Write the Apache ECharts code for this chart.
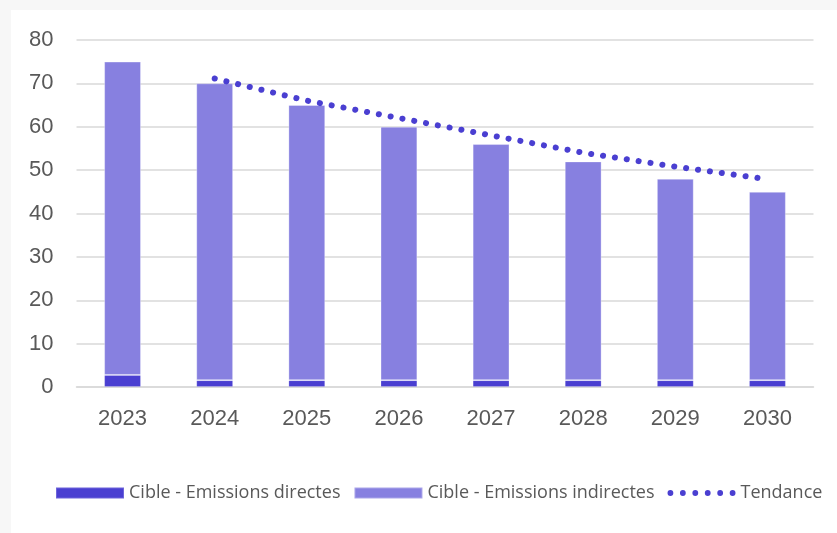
<!DOCTYPE html>
<html>
<head>
<meta charset="utf-8">
<script src="https://cdn.jsdelivr.net/npm/echarts@6/dist/echarts.min.js"></script>
<style>
  html, body { margin: 0; padding: 0; background: #f7f7f7; }
  #card { position: absolute; left: 11px; top: 10px; width: 826px; height: 523px; background: #ffffff; }
  #chart { position: absolute; left: 0; top: 0; width: 837px; height: 533px; }
</style>
</head>
<body>
<div id="card"></div>
<div id="chart"></div>
<script>
const categories = ['2023', '2024', '2025', '2026', '2027', '2028', '2029', '2030'];
const directes = [2.8, 1.6, 1.6, 1.6, 1.6, 1.6, 1.6, 1.6];
const indirectes = [72.2, 68.4, 63.4, 58.4, 54.4, 50.4, 46.4, 43.4];
const tendance = [null, 71.1, 66.0, 62.0, 58.0, 54.0, 50.8, 47.9];
const yTicks = [0, 10, 20, 30, 40, 50, 60, 70, 80];
const seriesNames = ['Cible - Emissions directes', 'Cible - Emissions indirectes', 'Tendance'];

// six dots icon for the dotted trend legend entry
let dotsPath = 'path://';
for (let i = 0; i < 6; i++) {
  const cx = 3 + i * 12.4, r = 2.9;
  dotsPath += 'M' + (cx - r) + ' 5.5 a' + r + ' ' + r + ' 0 1 0 ' + (2 * r) + ' 0 a' + r + ' ' + r + ' 0 1 0 ' + (-2 * r) + ' 0 Z ';
}

const chart = echarts.init(document.getElementById('chart'), null, { renderer: 'canvas' });
const labelColor = '#595959';
const option = {
  backgroundColor: 'transparent',
  animation: false,
  grid: { left: 76.5, right: 23.5, top: 39.9, bottom: 145.9 },
  legend: {
    left: 55,
    top: 484,
    padding: 0,
    itemWidth: 68,
    itemHeight: 11,
    itemGap: 13,
    textStyle: { fontFamily: 'Open Sans', fontSize: 18, color: labelColor },
    data: [
      { name: seriesNames[0], icon: 'rect' },
      { name: seriesNames[1], icon: 'rect' },
      { name: seriesNames[2], icon: dotsPath }
    ]
  },
  xAxis: {
    type: 'category',
    data: categories,
    axisLine: { show: true, lineStyle: { color: '#d9d9d9', width: 1.5 } },
    axisTick: { show: false },
    axisLabel: { color: labelColor, fontFamily: 'Liberation Sans', fontSize: 22, margin: 21 }
  },
  yAxis: {
    type: 'value',
    min: yTicks[0],
    max: yTicks[yTicks.length - 1],
    interval: yTicks[1] - yTicks[0],
    axisLine: { show: false },
    axisTick: { show: false },
    splitLine: { lineStyle: { color: '#d9d9d9', width: 1.5 } },
    axisLabel: { color: labelColor, fontFamily: 'Liberation Sans', fontSize: 22, margin: 23 }
  },
  series: [
    {
      name: seriesNames[0],
      type: 'bar',
      stack: 'total',
      barWidth: '40%',
      data: directes,
      itemStyle: { color: '#4a3fd1', borderColor: 'rgba(255,255,255,0.2)', borderWidth: 1 }
    },
    {
      name: seriesNames[1],
      type: 'bar',
      stack: 'total',
      barWidth: '40%',
      data: indirectes,
      itemStyle: { color: '#8780e0', borderColor: 'rgba(255,255,255,0.3)', borderWidth: 1 }
    },
    {
      name: seriesNames[2],
      type: 'line',
      data: tendance,
      symbol: 'none',
      showSymbol: false,
      itemStyle: { color: '#4a3fd1' },
      lineStyle: { color: '#4a3fd1', width: 6, type: [0.1, 11.9], cap: 'round' },
      z: 5
    }
  ]
};
chart.setOption(option);
</script>
</body>
</html>
